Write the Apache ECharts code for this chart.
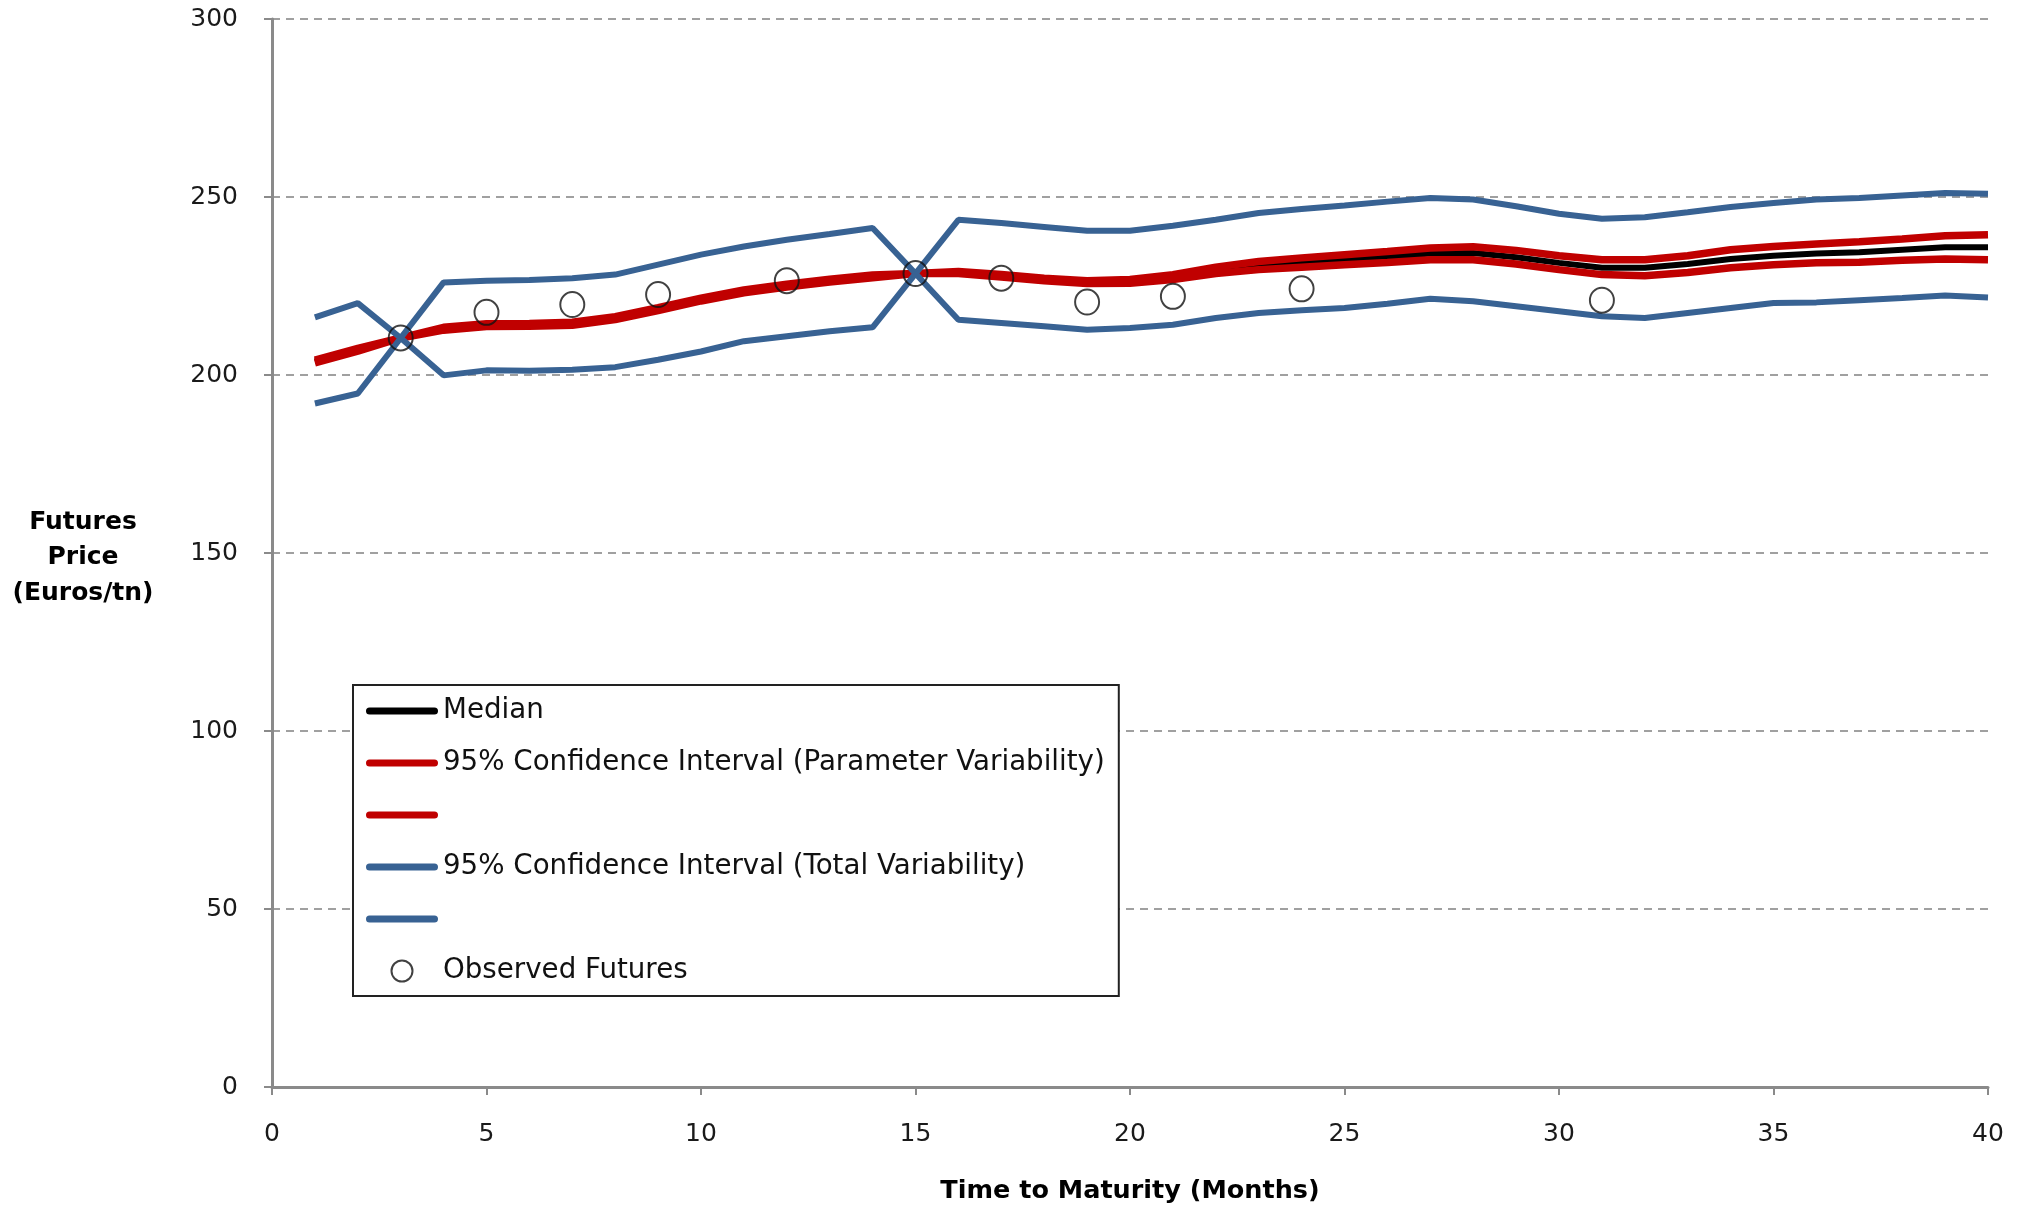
<!DOCTYPE html>
<html>
<head>
<meta charset="utf-8">
<script src="https://cdn.jsdelivr.net/npm/echarts@6/dist/echarts.min.js"></script>
<style>
html,body{margin:0;padding:0;background:#fff;}
#chart{width:2022px;height:1206px;}
</style>
</head>
<body>
<div id="chart"></div>
<script>
const months = [1,2,3,4,5,6,7,8,9,10,11,12,13,14,15,16,17,18,19,20,21,22,23,24,25,26,27,28,29,30,31,32,33,34,35,36,37,38,39,40];
const median = [203.8,207.1,210.4,213.0,214.0,214.1,214.4,216.0,218.5,221.2,223.5,225.1,226.5,227.7,228.5,228.8,227.9,226.8,226.0,226.3,227.5,229.4,230.7,231.6,232.4,233.1,234.1,234.3,233.1,231.5,230.1,230.1,231.2,232.6,233.5,234.1,234.5,235.2,235.9,235.9];
const paramUpper = [204.2,207.5,210.4,213.4,214.4,214.5,214.8,216.4,218.9,221.6,223.9,225.5,226.9,228.1,228.5,229.1,228.2,227.2,226.5,226.8,228.2,230.3,231.9,232.9,233.8,234.7,235.7,236.0,235.0,233.5,232.4,232.4,233.5,235.2,236.1,236.8,237.4,238.2,239.1,239.4];
const paramLower = [203.4,206.7,210.4,212.6,213.6,213.7,214.0,215.6,218.1,220.8,223.1,224.7,226.1,227.3,228.5,228.5,227.5,226.5,225.7,225.8,226.8,228.5,229.6,230.3,231.0,231.6,232.4,232.4,231.2,229.6,228.2,227.9,228.8,230.1,231.0,231.5,231.7,232.2,232.6,232.4];
const totalUpper = [216.2,220.2,210.4,226.0,226.5,226.7,227.2,228.2,231.0,233.8,236.1,238.0,239.6,241.3,228.5,243.6,242.7,241.6,240.5,240.5,241.9,243.6,245.5,246.6,247.6,248.7,249.7,249.3,247.4,245.3,243.9,244.3,245.7,247.2,248.3,249.3,249.7,250.4,251.1,250.9];
const totalLower = [192.0,194.8,210.4,199.9,201.3,201.2,201.5,202.2,204.3,206.6,209.5,210.9,212.3,213.4,228.5,215.5,214.6,213.7,212.7,213.2,214.1,216.0,217.4,218.2,218.8,220.0,221.4,220.7,219.3,217.9,216.5,216.0,217.4,218.8,220.2,220.4,221.0,221.6,222.3,221.8];
const observedMonths = [3,5,7,9,12,15,17,19,21,24,31];
const observedValues = [210.4,217.6,219.8,222.6,226.5,228.5,227.2,220.5,222.1,224.2,221.0];

const seriesNames = ['Median','95% Confidence Interval (Parameter Variability)',' ','95% Confidence Interval (Total Variability)','  ','Observed Futures'];

function pairs(xs, ys){ return xs.map((x,i)=>[x, ys[i]]); }

const BLUE = '#386293';
const RED = '#C00000';
const LINE_ICON = 'path://M5,0L95,0A5,5,0,0,1,95,10L5,10A5,5,0,0,1,5,0Z';

const chart = echarts.init(document.getElementById('chart'), null, {renderer:'canvas'});
chart.setOption({
  animation:false,
  backgroundColor:'#fff',
  grid:{left:272, right:34, top:19, bottom:119, containLabel:false, outerBoundsMode:'none'},
  xAxis:{
    type:'value', min:0, max:40, interval:5,
    name:'Time to Maturity (Months)', nameLocation:'middle', nameGap:104,
    nameTextStyle:{fontFamily:'DejaVu Sans', fontWeight:'bold', fontSize:25.5, color:'#000', verticalAlign:'middle'},
    axisLine:{show:true, lineStyle:{color:'#8a8a8a', width:3}},
    axisTick:{show:true, length:8, lineStyle:{color:'#8a8a8a', width:2}},
    axisLabel:{fontFamily:'DejaVu Sans', fontSize:25, color:'#1a1a1a', margin:35},
    splitLine:{show:false}
  },
  yAxis:{
    type:'value', min:0, max:300, interval:50,
    name:'{s|}\n{t|Futures}\n{t|Price}\n{t|(Euros/tn)}', nameLocation:'middle', nameGap:189, nameRotate:0,
    nameTextStyle:{fontFamily:'DejaVu Sans', fontWeight:'bold', fontSize:25, color:'#000', align:'center', verticalAlign:'middle',
      rich:{
        s:{fontSize:1, lineHeight:9},
        t:{fontFamily:'DejaVu Sans', fontWeight:'bold', fontSize:25, lineHeight:35.5, color:'#000', align:'center'}
      }},
    axisLine:{show:true, lineStyle:{color:'#8a8a8a', width:3}},
    axisTick:{show:true, length:8, lineStyle:{color:'#8a8a8a', width:2}},
    axisLabel:{fontFamily:'DejaVu Sans', fontSize:25, color:'#1a1a1a', margin:34},
    splitLine:{show:true, lineStyle:{color:'#a0a0a0', width:2, type:[8,6]}}
  },
  legend:{
    orient:'vertical', left:353, top:685,
    data:[
      {name:seriesNames[0], icon:LINE_ICON},
      {name:seriesNames[1], icon:LINE_ICON},
      {name:seriesNames[2], icon:LINE_ICON},
      {name:seriesNames[3], icon:LINE_ICON},
      {name:seriesNames[4], icon:LINE_ICON},
      {name:seriesNames[5]}
    ],
    formatter:function(n){ return n.trim()==='' ? '\u00a0' : n; },
    itemWidth:72, itemHeight:21, itemGap:24, symbolKeepAspect:true,
    padding:[12,14,11,13],
    borderColor:'#222', borderWidth:2, backgroundColor:'#fff',
    textStyle:{fontFamily:'DejaVu Sans', fontSize:27.7, color:'#111'},
    z:10
  },
  series:[
    {name:seriesNames[0], type:'line', data:pairs(months, median), symbol:'none', z:2,
     lineStyle:{color:'#000', width:6}, itemStyle:{color:'#000'}},
    {name:seriesNames[1], type:'line', data:pairs(months, paramUpper), symbol:'none', z:3,
     lineStyle:{color:RED, width:7.5}, itemStyle:{color:RED}},
    {name:seriesNames[2], type:'line', data:pairs(months, paramLower), symbol:'none', z:3,
     lineStyle:{color:RED, width:7.5}, itemStyle:{color:RED}},
    {name:seriesNames[3], type:'line', data:pairs(months, totalUpper), symbol:'none', z:4,
     lineStyle:{color:BLUE, width:6}, itemStyle:{color:BLUE}},
    {name:seriesNames[4], type:'line', data:pairs(months, totalLower), symbol:'none', z:4,
     lineStyle:{color:BLUE, width:6}, itemStyle:{color:BLUE}},
    {name:seriesNames[5], type:'scatter', data:pairs(observedMonths, observedValues), z:5,
     symbol:'circle', symbolSize:[24,25],
     itemStyle:{color:'rgba(0,0,0,0)', borderColor:'#111', borderWidth:2}}
  ]
});
</script>
</body>
</html>
